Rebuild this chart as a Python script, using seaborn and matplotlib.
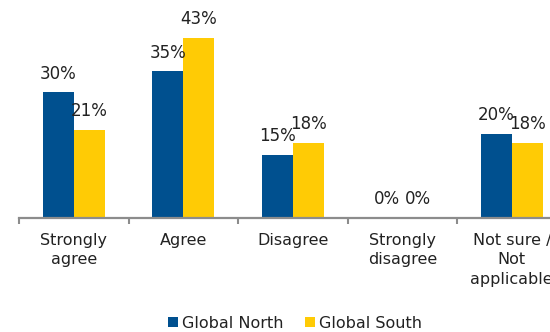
import pandas as pd
import matplotlib.pyplot as plt
import seaborn as sns
from matplotlib.ticker import FixedLocator

# --- data ---
categories = ["Strongly\nagree", "Agree", "Disagree", "Strongly\ndisagree", "Not sure /\nNot\napplicable"]
series = ["Global North", "Global South"]
north = [30, 35, 15, 0, 20]
south = [21, 43, 18, 0, 18]
colors = ["#00508F", "#FFCB05"]

df = pd.DataFrame({
    "Response": categories * 2,
    "Group": [series[0]] * len(categories) + [series[1]] * len(categories),
    "Share": north + south,
})

sns.set_theme(style="white")
plt.rcParams['font.family'] = ['DejaVu Sans']

fig = plt.figure(figsize=(5.5, 3.32), dpi=100)
# axes runs off the right edge, like the cropped original
ax = fig.add_axes([19 / 550, 1 - 218 / 332, 531 / 550, 218 / 332])

sns.barplot(data=df, x="Response", y="Share", hue="Group", palette=colors,
            width=0.57, saturation=1, ax=ax, linewidth=0)

for cont in ax.containers:
    ax.bar_label(cont, fmt='%d%%', padding=7, fontsize=12, color="#222222")

handles, labels = ax.get_legend_handles_labels()
ax.get_legend().remove()

ax.set_ylim(0, 218 / 4.19)
ax.set_xlim(-0.5, -0.5 + 531 / 109.5)
ax.set_xlabel("")
ax.set_ylabel("")
ax.set_yticks([])

for side in ["left", "right", "top"]:
    ax.spines[side].set_visible(False)
ax.spines["bottom"].set_color("#8c8c8c")
ax.spines["bottom"].set_linewidth(1.6)

# tick marks sit between the categories
ax.xaxis.set_minor_locator(FixedLocator([-0.5, 0.5, 1.5, 2.5, 3.5, 4.5]))
ax.tick_params(axis='x', which='major', length=0, pad=11, labelsize=11.5, labelcolor="#222222")
ax.tick_params(axis='x', which='minor', bottom=True, length=4, width=1.5, color="#8c8c8c")
for lbl in ax.get_xticklabels():
    lbl.set_linespacing(1.35)

fig.legend(handles, labels, loc='center', bbox_to_anchor=(295 / 550, 1 - 323 / 332),
           ncol=2, frameon=False, fontsize=11.5, handlelength=0.57, handleheight=0.57,
           handletextpad=0.25, columnspacing=1.4, labelcolor="#222222",
           borderpad=0, borderaxespad=0)

fig.savefig("out.png", dpi=100)
